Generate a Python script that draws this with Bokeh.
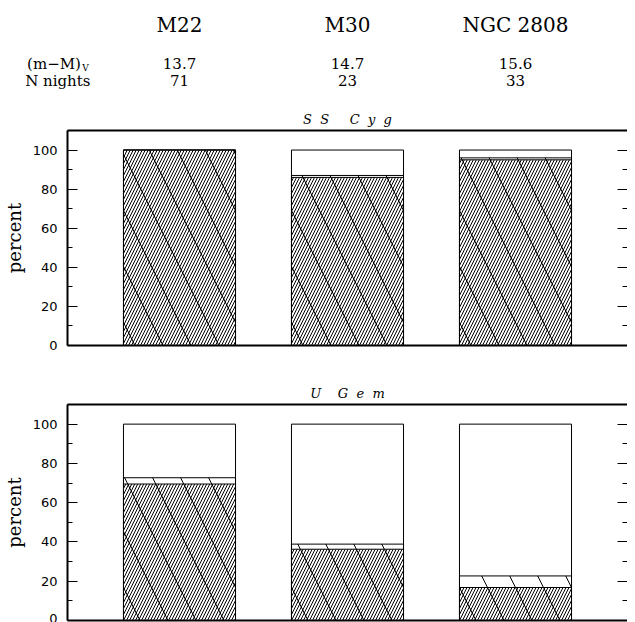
from bokeh.plotting import figure
from bokeh.models import (Range1d, LinearAxis, SingleIntervalTicker, FixedTicker,
                          ColumnDataSource)
from bokeh.layouts import column
from bokeh.core.properties import value
from bokeh.embed import file_html
from bokeh.resources import INLINE

# ---------------- data ----------------
clusters = ["M22", "M30", "NGC 2808"]
dist_mod = ["13.7", "14.7", "15.6"]
n_nights = ["71", "23", "33"]
row_names = ["(m\u2212M)", "N nights"]
xpos = [1, 2, 3]

total = [100, 100, 100]
sscyg_dense = [100, 86, 95]
sscyg_band = [100, 87, 96]
ugem_dense = [69.5, 36.3, 16.8]
ugem_band = [72.7, 38.9, 22.7]

# ---------------- layout constants ----------------
W = 627
LEFT = 59
SCALE = (10 / 3) / (W - LEFT)         # data units per pixel

def xpx(page_x):
    return 1 / 3 + (page_x - 67) * SCALE

SERIF = "DejaVu Serif"
SANS = "DejaVu Sans"
NB = "\u00a0"
ROW1, ROW2 = 63, 80

# ---------------- header ----------------
H_HEAD = 105
head = figure(width=W, height=H_HEAD, x_range=Range1d(1 / 3, 11 / 3), y_range=Range1d(H_HEAD, 0),
              min_border_left=LEFT, min_border_right=0, min_border_top=0, min_border_bottom=0,
              output_backend="svg", toolbar_location=None,
              x_axis_location=None, y_axis_location=None)
head.outline_line_color = None
head.xgrid.visible = False
head.ygrid.visible = False

head.text(x=xpos, y=[24] * 3, text=clusters, text_font=value(SERIF), text_font_size="20px",
          text_align="center", text_baseline="middle", text_color="black")
head.text(x=xpos, y=[ROW1] * 3, text=dist_mod, text_font=value(SERIF), text_font_size="15px",
          text_align="center", text_baseline="middle", text_color="black")
head.text(x=xpos, y=[ROW2] * 3, text=n_nights, text_font=value(SERIF), text_font_size="15px",
          text_align="center", text_baseline="middle", text_color="black")
head.text(x=[xpx(82)], y=[ROW1 + 4], text=["V"], text_font=value(SERIF), text_font_size="9px",
          text_align="left", text_baseline="middle", text_color="black")

row_axis = LinearAxis(ticker=FixedTicker(ticks=[ROW1, ROW2]),
                      major_label_overrides={ROW1: row_names[0] + NB * 2, ROW2: row_names[1]},
                      axis_line_color=None, major_tick_line_color=None, minor_tick_line_color=None,
                      major_tick_in=0, major_tick_out=0, minor_tick_in=0, minor_tick_out=0,
                      major_label_standoff=-23, major_label_text_font=SERIF,
                      major_label_text_font_size="15px", major_label_text_color="black")
head.add_layout(row_axis, "left")


def panel(title, dense, band, height, top, bottom):
    p = figure(width=W, height=height, x_range=Range1d(1 / 3, 11 / 3), y_range=Range1d(0, 110),
               min_border_left=LEFT, min_border_right=0, min_border_top=top,
               min_border_bottom=bottom, output_backend="svg", toolbar_location=None,
               x_axis_location=None, y_axis_location=None, title=title)
    p.outline_line_color = None
    p.xgrid.visible = False
    p.ygrid.visible = False
    p.title.align = "center"
    p.title.text_font = SERIF
    p.title.text_font_style = "italic"
    p.title.text_font_size = "13px"
    p.title.text_color = "black"
    p.title.standoff = 7

    src = ColumnDataSource(dict(x=xpos, total=total, dense=dense, band=band))
    p.vbar(x="x", top="total", bottom=0, width=0.667, source=src,
           fill_color="white", line_color="black", line_width=1)
    p.vbar(x="x", top="dense", bottom=0, width=0.667, source=src,
           fill_color="white", line_color="black", line_width=1,
           hatch_pattern="/", hatch_scale=6, hatch_weight=1, hatch_color="black")
    p.vbar(x="x", top="band", bottom=0, width=0.667, source=src,
           fill_alpha=0, line_color="black", line_width=1,
           hatch_pattern="\\", hatch_scale=56, hatch_weight=1, hatch_color="black")

    yl = LinearAxis(ticker=SingleIntervalTicker(interval=20, num_minor_ticks=2), axis_label="percent",
                    axis_line_width=2, axis_line_color="black",
                    major_tick_in=10, major_tick_out=0, minor_tick_in=5, minor_tick_out=0,
                    major_tick_line_color="black", minor_tick_line_color="black",
                    major_label_text_font=SANS, major_label_text_font_size="13px",
                    major_label_text_color="black", major_label_standoff=10,
                    axis_label_text_font=SERIF, axis_label_text_font_size="18px",
                    axis_label_text_font_style="normal", axis_label_text_color="black",
                    axis_label_standoff=5)
    p.add_layout(yl, "left")
    yr = LinearAxis(ticker=SingleIntervalTicker(interval=20, num_minor_ticks=2),
                    axis_line_color=None,
                    major_tick_in=10, major_tick_out=0, minor_tick_in=5, minor_tick_out=0,
                    major_tick_line_color="black", minor_tick_line_color="black",
                    major_label_overrides={v: "" for v in range(0, 120, 20)},
                    major_label_standoff=0)
    p.add_layout(yr, "right")
    for loc in ("above", "below"):
        ax = LinearAxis(ticker=FixedTicker(ticks=[]), axis_line_width=2, axis_line_color="black",
                        major_tick_in=0, major_tick_out=0, minor_tick_in=0, minor_tick_out=0,
                        major_label_standoff=0)
        p.add_layout(ax, loc)
    return p


pa = panel("S" + NB * 2 + "S" + NB * 5 + "C" + NB * 2 + "y" + NB * 2 + "g",
           sscyg_dense, sscyg_band, 265, 25, 25)
pb = panel("U" + NB * 4 + "G" + NB * 2 + "e" + NB * 2 + "m",
           ugem_dense, ugem_band, 252, 34, 2)

layout = column(head, pa, pb, spacing=0)
open("out.html", "w").write(file_html(layout, INLINE))
